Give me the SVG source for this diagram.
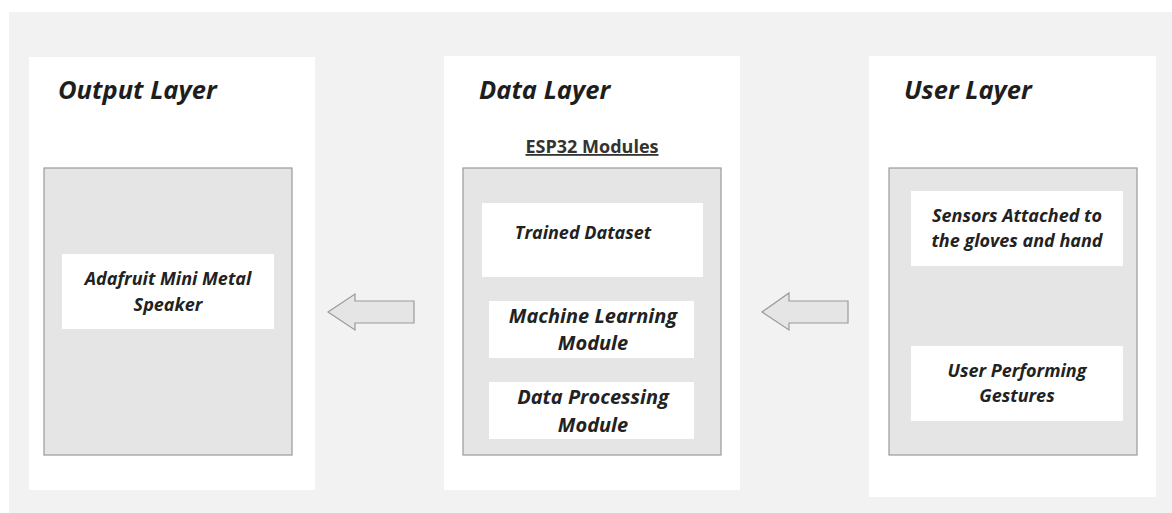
<svg xmlns="http://www.w3.org/2000/svg" width="1172" height="513" viewBox="0 0 1172 513">
  <style>
    .panel { fill: #ffffff; }
    .frame { fill: #e5e5e5; stroke: #9a9a9a; stroke-width: 1.2; }
    .card { fill: #ffffff; }
    .title { font-family: "Open Sans", "DejaVu Sans", sans-serif; font-weight: 700; font-style: italic; font-size: 25.5px; fill: #1e1e1e; }
    .label { font-family: "Open Sans", "DejaVu Sans", sans-serif; font-weight: 700; font-style: italic; font-size: 18px; fill: #222222; text-anchor: middle; }
    .label-lg { font-family: "Open Sans", "DejaVu Sans", sans-serif; font-weight: 700; font-style: italic; font-size: 20px; fill: #222222; text-anchor: middle; }
    .caption { font-family: "Open Sans", "DejaVu Sans", sans-serif; font-weight: 700; font-size: 18px; fill: #333333; text-anchor: middle; text-decoration: underline; }
    .flow { fill: #e5e5e5; stroke: #9a9a9a; stroke-width: 1.2; stroke-linejoin: miter; }
  </style>

  <!-- canvas -->
  <rect x="9" y="12" width="1163" height="501" fill="#f2f2f2"/>

  <!-- Output layer -->
  <g id="output-layer">
    <rect class="panel" x="29" y="57" width="286" height="433"/>
    <text class="title" x="58" y="99">Output Layer</text>
    <rect class="frame" x="44" y="168" width="248" height="287"/>
    <g id="speaker">
      <rect class="card" x="62" y="254" width="212" height="75"/>
      <text class="label" x="168" y="285">Adafruit Mini Metal</text>
      <text class="label" x="168" y="311">Speaker</text>
    </g>
  </g>

  <!-- Data layer -->
  <g id="data-layer">
    <rect class="panel" x="444" y="56" width="296" height="434"/>
    <text class="title" x="479" y="99">Data Layer</text>
    <text class="caption" x="592" y="153">ESP32 Modules</text>
    <rect class="frame" x="463" y="168" width="258" height="287"/>
    <g id="trained-dataset">
      <rect class="card" x="482" y="203" width="221" height="74"/>
      <text class="label" x="583" y="239">Trained Dataset</text>
    </g>
    <g id="ml-module">
      <rect class="card" x="489" y="301" width="205" height="57"/>
      <text class="label-lg" x="593" y="323">Machine Learning</text>
      <text class="label-lg" x="593" y="350">Module</text>
    </g>
    <g id="processing-module">
      <rect class="card" x="489" y="382" width="205" height="57"/>
      <text class="label-lg" x="593" y="404">Data Processing</text>
      <text class="label-lg" x="593" y="432">Module</text>
    </g>
  </g>

  <!-- User layer -->
  <g id="user-layer">
    <rect class="panel" x="869" y="56" width="287" height="441"/>
    <text class="title" x="904" y="99">User Layer</text>
    <rect class="frame" x="889" y="168" width="248" height="287"/>
    <g id="sensors">
      <rect class="card" x="911" y="191" width="212" height="75"/>
      <text class="label" x="1017" y="222">Sensors Attached to</text>
      <text class="label" x="1017" y="247">the gloves and hand</text>
    </g>
    <g id="gestures">
      <rect class="card" x="911" y="346" width="212" height="75"/>
      <text class="label" x="1017" y="377">User Performing</text>
      <text class="label" x="1017" y="402">Gestures</text>
    </g>
  </g>

  <!-- flow arrows between layers -->
  <g id="connectors">
    <polygon class="flow" points="328,312 355,294 355,301 414,301 414,323 355,323 355,330"/>
    <polygon class="flow" points="762,312 789,293 789,301 848,301 848,323 789,323 789,330"/>
  </g>
</svg>
